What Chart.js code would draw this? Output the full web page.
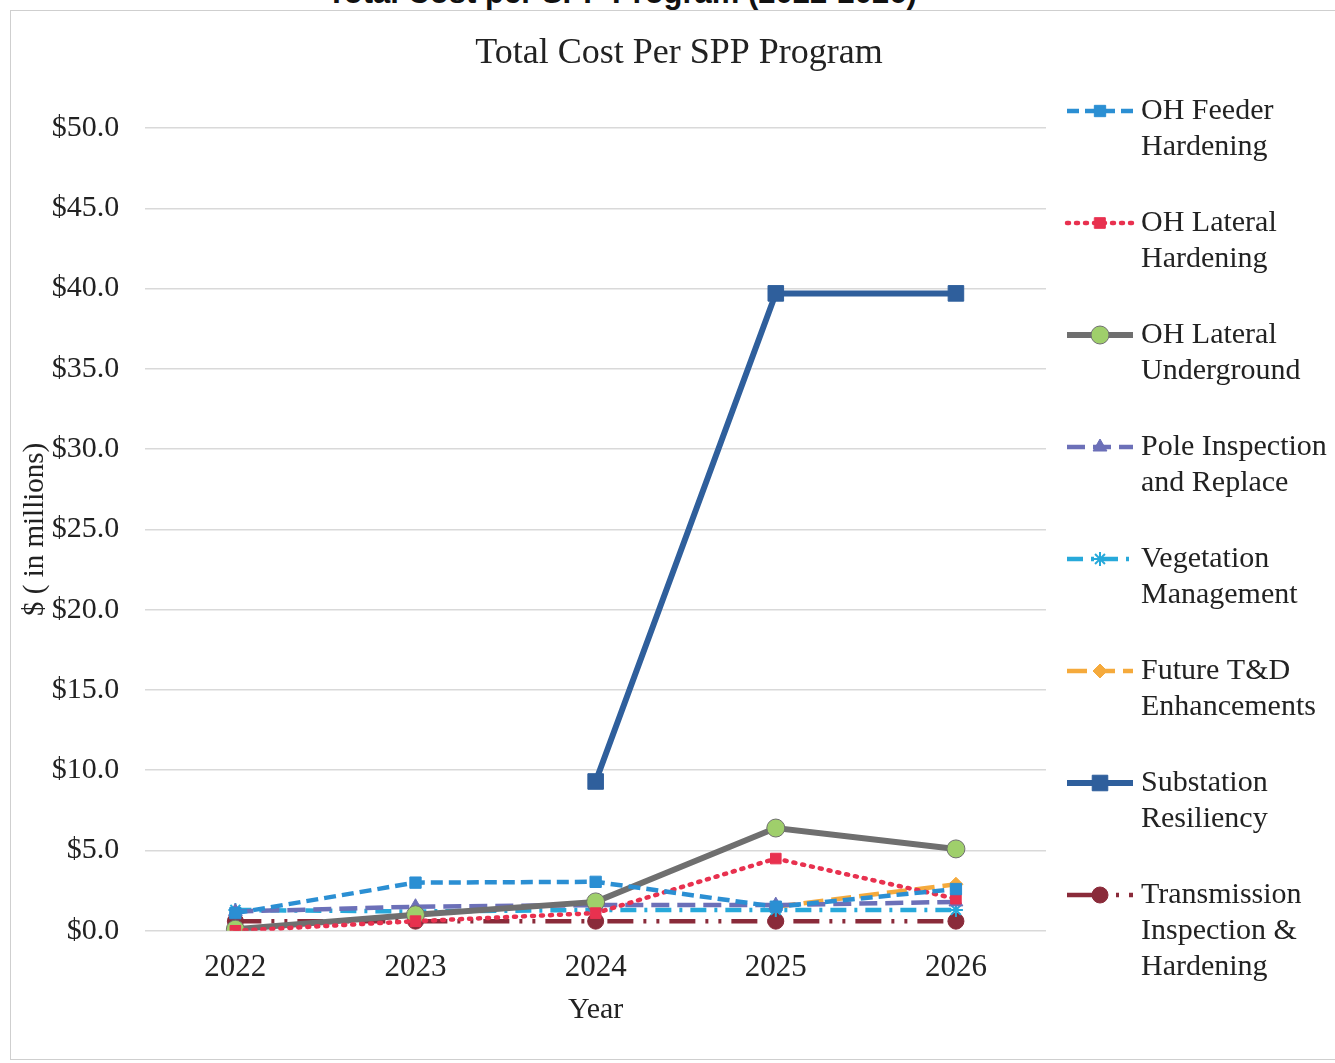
<!DOCTYPE html>
<html>
<head>
<meta charset="utf-8">
<script src="https://cdn.jsdelivr.net/npm/chart.js@4.4.1/dist/chart.umd.min.js"></script>
<style>
  body { margin: 0; background: #fff; width: 1335px; height: 1063px; overflow: hidden; position: relative; }
  #hdr { position: absolute; left: 0; width: 1244px; top: -22px; text-align: center; font: bold 31px "Liberation Sans", Arial, sans-serif; color: #111; line-height: 30px; }
  #box { position: absolute; left: 10px; top: 10px; width: 1330px; height: 1050px; border: 1px solid #cfcfcf; box-sizing: border-box; }
</style>
</head>
<body>
<div id="hdr">Total Cost per SPP Program (2022-2026)</div>
<div id="box"><canvas id="costChart"></canvas></div>
<script>
var years = ['2022', '2023', '2024', '2025', '2026'];
var ohFeeder = [1.1, 3.0, 3.05, 1.5, 2.6];
var ohLateralHard = [0.0, 0.6, 1.1, 4.5, 2.0];
var ohLateralUG = [0.1, 1.0, 1.8, 6.4, 5.1];
var poleInspection = [1.2, 1.5, 1.6, 1.6, 1.8];
var vegetation = [1.3, 1.2, 1.3, 1.3, 1.3];
var futureTD = [null, null, null, 1.5, 2.9];
var substation = [null, null, 9.3, 39.7, 39.7];
var transmission = [0.6, 0.6, 0.6, 0.6, 0.6];
var seriesNames = [
    ['OH Feeder', 'Hardening'],
    ['OH Lateral', 'Hardening'],
    ['OH Lateral', 'Underground'],
    ['Pole Inspection', 'and Replace'],
    ['Vegetation', 'Management'],
    ['Future T&D', 'Enhancements'],
    ['Substation', 'Resiliency'],
    ['Transmission', 'Inspection &', 'Hardening']
];
var yTicks = [0, 5, 10, 15, 20, 25, 30, 35, 40, 45, 50];
var chartTitle = 'Total Cost Per SPP Program';

var serif = '"Liberation Serif", "Times New Roman", serif';

function line(i, data, color, dash, width, style, radius, fill) {
    return {
        label: seriesNames[i].join(' '),
        data: data,
        borderColor: color,
        backgroundColor: fill || color,
        borderDash: dash,
        borderWidth: width,
        borderCapStyle: dash.length && dash[0] < 4 ? 'round' : 'butt',
        pointStyle: style,
        pointRadius: radius,
        pointBorderColor: color,
        pointBackgroundColor: fill || color,
        pointBorderWidth: style === 'star' ? 2 : 1,
        tension: 0,
        spanGaps: false
    };
}

// title centred on the whole canvas + legend drawn on the right, with wrapped names
var sideLegend = {
    id: 'sideLegend',
    afterDraw: function (chart) {
        var ctx = chart.ctx;
        ctx.save();
        ctx.fillStyle = '#222';
        ctx.font = '36px ' + serif;
        ctx.textAlign = 'center';
        ctx.textBaseline = 'middle';
        ctx.fillText(chartTitle, 668, 43);
        ctx.restore();

        var x0 = 1056, x1 = 1122, xm = 1089, tx = 1130;
        chart.data.datasets.forEach(function (ds, i) {
            var y = 100 + i * 112;
            ctx.save();
            ctx.strokeStyle = ds.borderColor;
            ctx.lineWidth = ds.borderWidth;
            ctx.lineCap = ds.borderCapStyle;
            ctx.setLineDash(ds.borderDash);
            ctx.beginPath();
            ctx.moveTo(x0, y);
            ctx.lineTo(x1, y);
            ctx.stroke();
            ctx.setLineDash([]);
            ctx.fillStyle = ds.pointBackgroundColor;
            ctx.strokeStyle = ds.pointBorderColor;
            ctx.lineWidth = ds.pointBorderWidth;
            Chart.helpers.drawPoint(ctx, { pointStyle: ds.pointStyle, radius: ds.pointRadius, rotation: 0, borderWidth: ds.pointBorderWidth }, xm, y);
            ctx.fillStyle = '#222';
            ctx.font = '30px ' + serif;
            ctx.textBaseline = 'middle';
            seriesNames[i].forEach(function (t, k) {
                ctx.fillText(t, tx, y + k * 36);
            });
            ctx.restore();
        });
    }
};

var ctx1 = document.getElementById('costChart').getContext('2d');
var costChart = new Chart(ctx1, {
    type: 'line',
    data: {
        labels: years,
        datasets: [
            line(0, ohFeeder, '#2b8fd3', [12, 6], 4.5, 'rect', 8),
            line(1, ohLateralHard, '#e8314f', [2, 7], 4.5, 'rect', 7.5),
            line(2, ohLateralUG, '#6f6f6f', [], 6, 'circle', 9, '#9fcf6b'),
            line(3, poleInspection, '#6c70b8', [18, 8], 4.5, 'triangle', 8),
            line(4, vegetation, '#27a9da', [16, 8, 3, 8], 4.5, 'star', 7),
            line(5, futureTD, '#f5aa3c', [20, 8], 4.5, 'rectRot', 7),
            line(6, substation, '#2f5f9c', [], 6, 'rect', 11),
            line(7, transmission, '#8a2b3a', [26, 10, 3, 10, 3, 10], 4.5, 'circle', 8)
        ]
    },
    plugins: [sideLegend],
    options: {
        responsive: true,
        maintainAspectRatio: false,
        animation: false,
        layout: { padding: { left: 3, right: 293, top: 117, bottom: 27 } },
        plugins: {
            legend: { display: false },
            tooltip: { enabled: false },
            title: { display: false }
        },
        scales: {
            x: {
                offset: true,
                grid: { display: false },
                border: { display: false },
                ticks: { color: '#222', font: { family: serif, size: 31 }, padding: 10 },
                title: { display: true, text: 'Year', color: '#222', font: { family: serif, size: 30 }, padding: { top: -4, bottom: 4 } }
            },
            y: {
                min: 0,
                max: 50,
                afterBuildTicks: function (axis) {
                    axis.ticks = yTicks.map(function (v) { return { value: v }; });
                },
                grid: { color: '#d9d9d9', lineWidth: 1.5, drawTicks: false },
                border: { display: false },
                ticks: {
                    color: '#222',
                    font: { family: serif, size: 30 },
                    padding: 26,
                    callback: function (value) { return '$' + value.toFixed(1); }
                },
                title: { display: true, text: '$ ( in millions)', color: '#222', font: { family: serif, size: 29 }, padding: { top: 4, bottom: -27 } }
            }
        }
    }
});
</script>
</body>
</html>
